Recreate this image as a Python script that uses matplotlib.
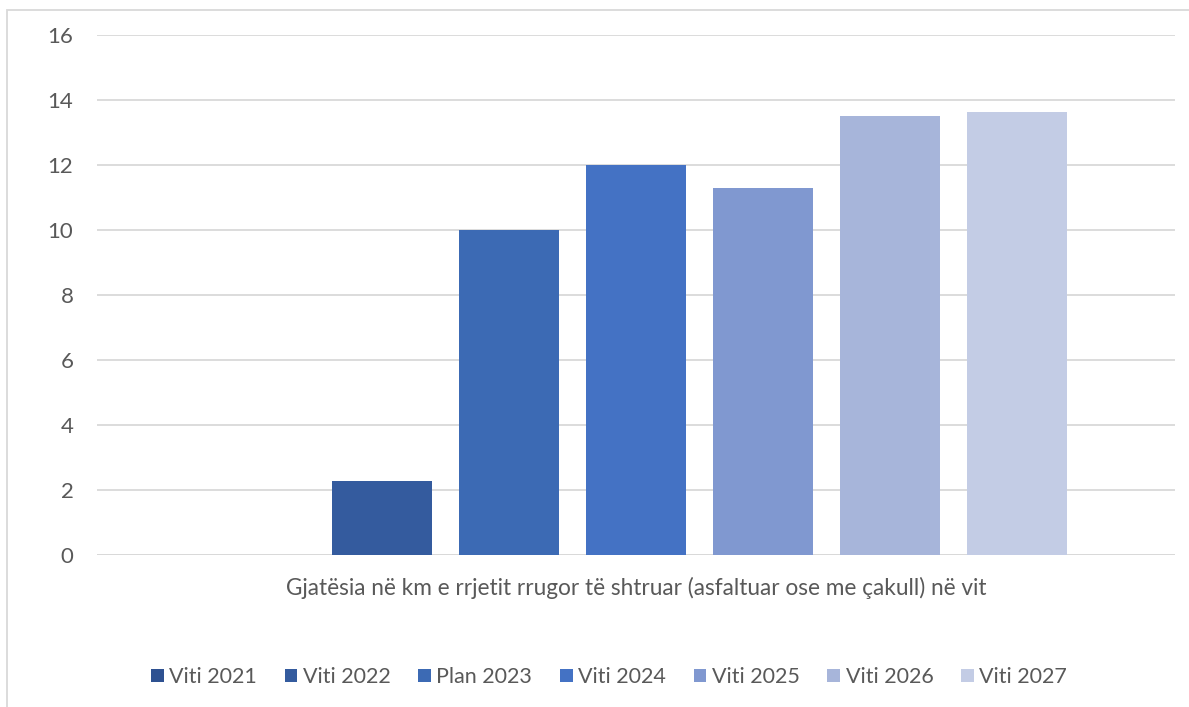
import matplotlib
matplotlib.use("Agg")
import matplotlib.pyplot as plt
from matplotlib.patches import Rectangle

series = ["Viti 2021", "Viti 2022", "Plan 2023", "Viti 2024", "Viti 2025", "Viti 2026", "Viti 2027"]
values = [0, 2.28, 10.0, 12.0, 11.29, 13.51, 13.63]
colors = ["#2E5191", "#345B9E", "#3C6AB4", "#4472C4", "#8098D0", "#A7B5DA", "#C3CCE5"]
category = "Gjatësia në km e rrjetit rrugor të shtruar (asfaltuar ose me çakull) në vit"
yticks = [0, 2, 4, 6, 8, 10, 12, 14, 16]

plt.rcParams['font.family'] = ['Lato', 'DejaVu Sans']

W, H = 1189, 707
fig = plt.figure(figsize=(W / 100, H / 100), dpi=100)

# plot area in pixels
x0, x1 = 97, 1175
y_top, y_bot = 35, 555
ax = fig.add_axes([x0 / W, 1 - y_bot / H, (x1 - x0) / W, (y_bot - y_top) / H])

pitch = 127 / (x1 - x0)
bw = 100 / (x1 - x0)
n = len(series)
handles = []
for i, (s, v, c) in enumerate(zip(series, values, colors)):
    xc = 0.5 + (i - (n - 1) / 2) * pitch
    b = ax.bar(xc, v, width=bw, color=c, label=s, zorder=3)
    handles.append(b)

ax.set_xlim(0, 1)
ax.set_ylim(0, 16)
ax.set_yticks(yticks)
ax.set_yticklabels([str(t) for t in yticks], fontsize=16, color="#595959")
ax.tick_params(axis='y', length=0, pad=17)
ax.set_xticks([])
ax.grid(axis='y', color="#D9D9D9", linewidth=1.3, zorder=0)
for sp in ax.spines.values():
    sp.set_visible(False)
ax.axhline(0, color="#D9D9D9", linewidth=1.3, zorder=1)

fig.text((x0 + x1) / 2 / W, 1 - 588 / H, category, ha='center', va='center',
         fontsize=16.3, color="#595959")

leg = fig.legend(handles=handles, labels=series, loc='center', ncol=7,
                 bbox_to_anchor=(609 / W, 1 - 677 / H), frameon=False,
                 fontsize=15.5, handlelength=0.6, handleheight=0.6,
                 handletextpad=0.25, columnspacing=1.28)
for t in leg.get_texts():
    t.set_color("#595959")

# chart border (left and top visible)
fig.add_artist(Rectangle((6.5 / W, -0.1), 1.2, 1 - 9.5 / H + 0.1, transform=fig.transFigure,
                         fill=False, edgecolor="#D9D9D9", linewidth=1.3))

fig.savefig("out.png", dpi=100)
